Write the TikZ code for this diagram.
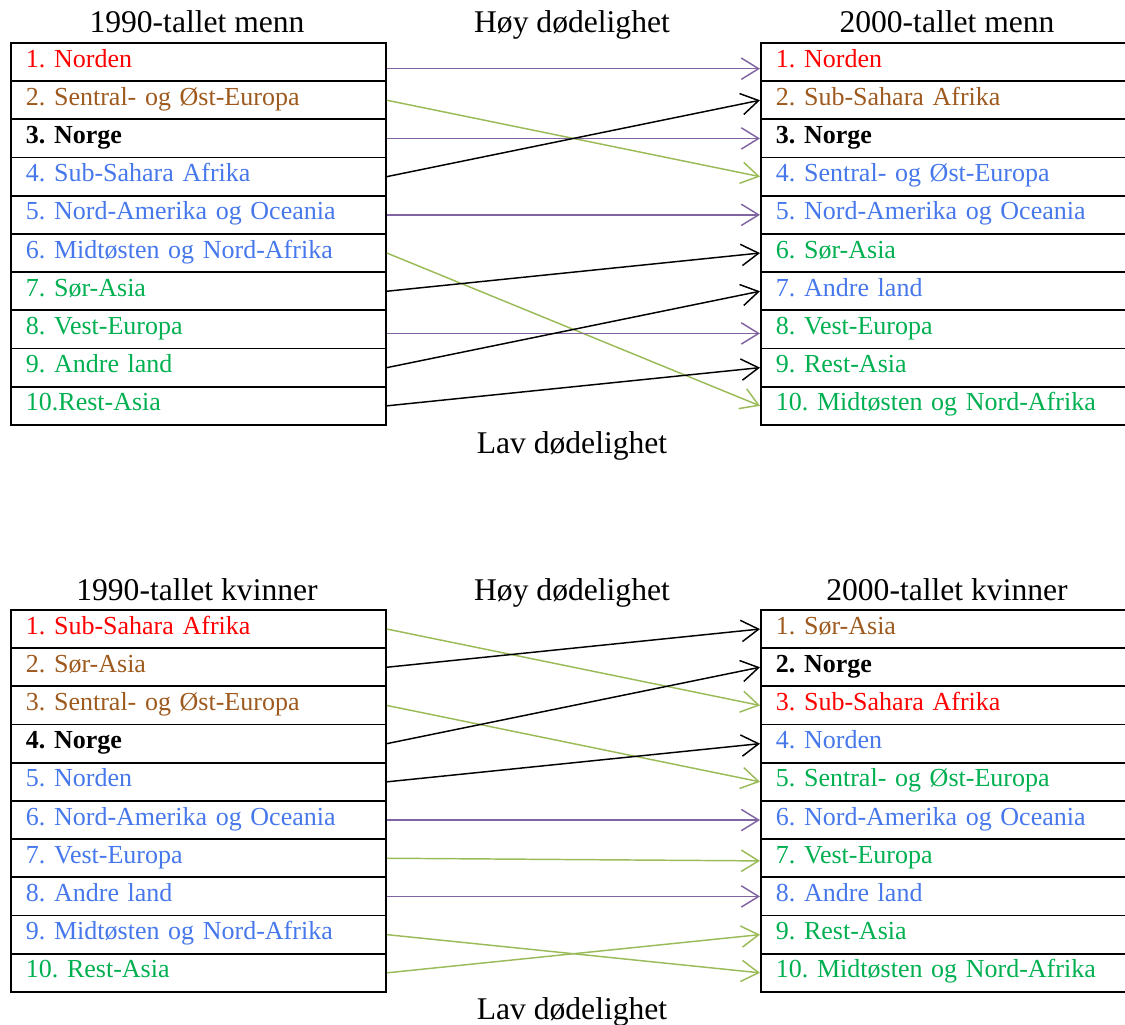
\documentclass[tikz,border=0pt]{standalone}
\usepackage{fontspec}
\setmainfont{Liberation Serif}
\frenchspacing
\usetikzlibrary{arrows.meta}
\definecolor{cred}{RGB}{255,0,0}
\definecolor{cbrown}{RGB}{158,90,30}
\definecolor{cblue}{RGB}{70,120,235}
\definecolor{cgreen}{RGB}{0,176,80}
\definecolor{apurple}{RGB}{128,100,162}
\definecolor{agreen}{RGB}{155,187,89}
\begin{document}
\begin{tikzpicture}[x=0.75pt,y=-0.75pt,
  cellL/.style={draw, line width=1.4pt, minimum height=28.65pt, inner xsep=11.25pt, inner ysep=0pt,
    text height=13pt, text depth=5.5pt,
    text width=258.75pt, align=left, anchor=north west, font=\fontsize{19.5}{22}\selectfont},
  cellR/.style={cellL, text width=262.5pt},
  tred/.style={text=cred}, tbrown/.style={text=cbrown}, tblue/.style={text=cblue},
  tgreen/.style={text=cgreen}, tbold/.style={text=black, font=\fontsize{19.5}{22}\selectfont\bfseries},
  hdr/.style={font=\fontsize{23.7}{28}\selectfont, inner sep=0pt, anchor=base},
  arr/.style={line width=1.1pt, -{Straight Barb[length=13pt,width=16pt,line width=1.1pt]}},
  ap/.style={arr, draw=apurple}, ag/.style={arr, draw=agreen}, ab/.style={arr, draw=black}]
\useasboundingbox (0,0) rectangle (1125,1025);
% headers
\node[hdr] (h1) at (197,32) {1990-tallet menn};
\node[hdr] (h2) at (572,32) {Høy dødelighet};
\node[hdr] (h3) at (947,32) {2000-tallet menn};
\node[hdr] (h4) at (572,453) {Lav dødelighet};
\node[hdr] (h5) at (197,600) {1990-tallet kvinner};
\node[hdr] (h6) at (572,600) {Høy dødelighet};
\node[hdr] (h7) at (947,600) {2000-tallet kvinner};
\node[hdr] (h8) at (572,1019) {Lav dødelighet};
% men left
\foreach \i/\s/\t in {1/tred/1. Norden, 2/tbrown/2. Sentral- og Øst-Europa, 3/tbold/3. Norge,
  4/tblue/4. Sub-Sahara Afrika, 5/tblue/5. Nord-Amerika og Oceania, 6/tblue/6. Midtøsten og Nord-Afrika,
  7/tgreen/7. Sør-Asia, 8/tgreen/8. Vest-Europa, 9/tgreen/9. Andre land, 10/tgreen/10.Rest-Asia}
  \node[cellL,\s] (L\i) at (10,{42+(\i-1)*38.2}) {\t};
% men right
\foreach \i/\s/\t in {1/tred/1. Norden, 2/tbrown/2. Sub-Sahara Afrika, 3/tbold/3. Norge,
  4/tblue/4. Sentral- og Øst-Europa, 5/tblue/5. Nord-Amerika og Oceania, 6/tgreen/6. Sør-Asia,
  7/tblue/7. Andre land, 8/tgreen/8. Vest-Europa, 9/tgreen/9. Rest-Asia, 10/tgreen/10. Midtøsten og Nord-Afrika}
  \node[cellR,\s] (R\i) at (760,{42+(\i-1)*38.2}) {\t};
% women left
\foreach \i/\s/\t in {1/tred/1. Sub-Sahara Afrika, 2/tbrown/2. Sør-Asia, 3/tbrown/3. Sentral- og Øst-Europa,
  4/tbold/4. Norge, 5/tblue/5. Norden, 6/tblue/6. Nord-Amerika og Oceania,
  7/tblue/7. Vest-Europa, 8/tblue/8. Andre land, 9/tblue/9. Midtøsten og Nord-Afrika, 10/tgreen/10. Rest-Asia}
  \node[cellL,\s] (WL\i) at (10,{609+(\i-1)*38.2}) {\t};
% women right
\foreach \i/\s/\t in {1/tbrown/1. Sør-Asia, 2/tbold/2. Norge, 3/tred/3. Sub-Sahara Afrika,
  4/tblue/4. Norden, 5/tgreen/5. Sentral- og Øst-Europa, 6/tblue/6. Nord-Amerika og Oceania,
  7/tgreen/7. Vest-Europa, 8/tblue/8. Andre land, 9/tgreen/9. Rest-Asia, 10/tgreen/10. Midtøsten og Nord-Afrika}
  \node[cellR,\s] (WR\i) at (760,{609+(\i-1)*38.2}) {\t};
% men arrows
\draw[ap] ([yshift=-5pt]L1.east) -- ([yshift=-5pt]R1.west);
\draw[ag] (L2.east) -- (R4.west);
\draw[ap] (L3.east) -- (R3.west);
\draw[ab] (L4.east) -- (R2.west);
\draw[ap] (L5.east) -- (R5.west);
\draw[ag] (L6.east) -- (R10.west);
\draw[ab] (L7.east) -- (R6.west);
\draw[ap] ([yshift=-3pt]L8.east) -- ([yshift=-3pt]R8.west);
\draw[ab] (L9.east) -- (R7.west);
\draw[ab] (L10.east) -- (R9.west);
% women arrows
\draw[ag] (WL1.east) -- (WR3.west);
\draw[ab] (WL2.east) -- (WR1.west);
\draw[ag] (WL3.east) -- (WR5.west);
\draw[ab] (WL4.east) -- (WR2.west);
\draw[ab] (WL5.east) -- (WR4.west);
\draw[ap] (WL6.east) -- (WR6.west);
\draw[ag] (WL7.east) -- ([yshift=-2pt]WR7.west);
\draw[ap] (WL8.east) -- (WR8.west);
\draw[ag] (WL9.east) -- (WR10.west);
\draw[ag] (WL10.east) -- (WR9.west);
\end{tikzpicture}
\end{document}
